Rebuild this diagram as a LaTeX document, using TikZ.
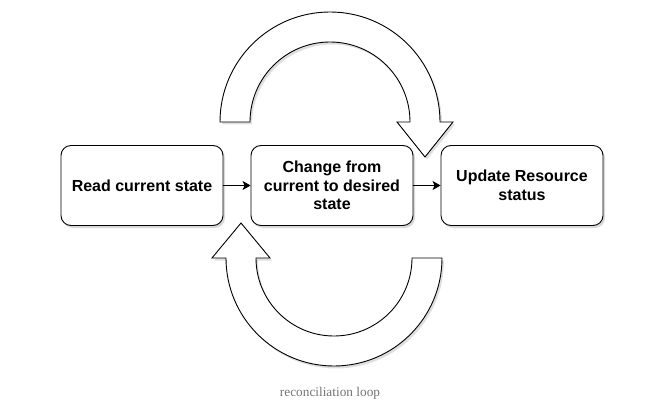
\documentclass[tikz,border=0pt]{standalone}
\usepackage{fontspec}
\setmainfont{Liberation Sans}
\newfontfamily\captionfont{Liberation Serif}
\usepackage{tikz}
\usetikzlibrary{arrows.meta,shadows}

\tikzset{
  stepbox/.style={draw,rounded corners=10pt,fill=white,line width=0.9pt,
    minimum width=162pt,minimum height=80pt,align=center,
    font=\fontsize{16}{18.5}\selectfont\bfseries,
    drop shadow={shadow xshift=2pt,shadow yshift=-2.5pt,opacity=0.3}},
  looparrow/.style={draw,fill=white,line width=0.9pt,line join=miter,
    drop shadow={shadow xshift=2pt,shadow yshift=-2.5pt,opacity=0.25}},
  flow/.style={-{Stealth[length=8pt,width=9pt,inset=2pt]},line width=0.9pt}
}

\begin{document}
\begin{tikzpicture}[x=1pt,y=1pt]
  \useasboundingbox (0,0) rectangle (671,-406);
  % big loop arrows
  \path[looparrow] (220,-122) arc (180:0:110) -- (453,-122) -- (425,-157)
    -- (397,-122) -- (410,-122) arc (0:180:80) -- cycle;
  \path[looparrow] (442,-258) arc (0:-180:108) -- (212,-258) -- (241,-223)
    -- (270,-258) -- (256,-258) arc (180:360:78) -- cycle;
  % steps
  \node[stepbox] (read) at (142,-185.5) {Read current state};
  \node[stepbox] (change) at (332,-185.5) {Change from\\current to desired\\state};
  \node[stepbox] (update) at (522,-185.5) {Update Resource\\status};
  \draw[flow] (read) -- (change);
  \draw[flow] (change) -- (update);
  \node[font=\captionfont\fontsize{13.3}{15}\selectfont,text=black!55] (caption) at (330,-393) {reconciliation loop};
\end{tikzpicture}
\end{document}
